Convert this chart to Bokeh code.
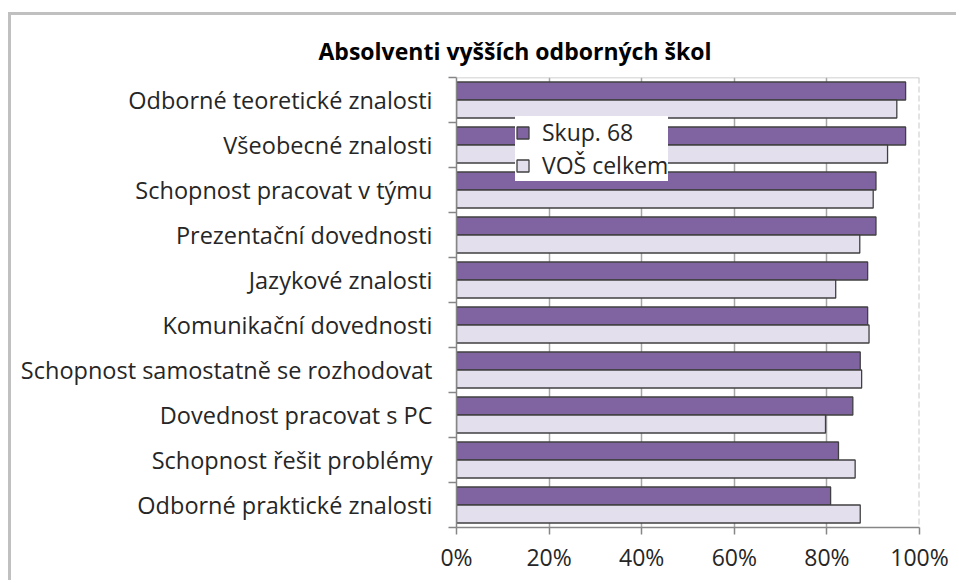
import numpy as np
from bokeh.plotting import figure
from bokeh.models import (Range1d, FixedTicker, Span, Legend, LegendItem,
                          ColumnDataSource)
from bokeh.transform import dodge
from bokeh.embed import file_html
from bokeh.resources import INLINE

# ---------------- data ----------------
title_text = "Absolventi vyšších odborných škol"
categories = [
    "Odborné teoretické znalosti",
    "Všeobecné znalosti",
    "Schopnost pracovat v týmu",
    "Prezentační dovednosti",
    "Jazykové znalosti",
    "Komunikační dovednosti",
    "Schopnost samostatně se rozhodovat",
    "Dovednost pracovat s PC",
    "Schopnost řešit problémy",
    "Odborné praktické znalosti",
]
series_names = ["Skup. 68", "VOŠ celkem"]
skup68 = [97.0, 97.0, 90.6, 90.6, 88.8, 88.8, 87.2, 85.6, 82.5, 80.8]
vos_celkem = [95.1, 93.1, 90.0, 87.1, 81.9, 89.1, 87.5, 79.7, 86.1, 87.2]
x_ticks = [0, 20, 40, 60, 80, 100]
x_tick_labels = ["0%", "20%", "40%", "60%", "80%", "100%"]

# ---------------- styling ----------------
FONT = "Open Sans"
TEXT = "#262626"
AXIS = "#868686"
PURPLE = "#8064A2"
LIGHT = "#E4DFEC"
EDGE = "#404040"

n = len(categories)
ypos = list(range(n - 1, -1, -1))
src = ColumnDataSource(dict(y=ypos, cat=categories, a=skup68, b=vos_celkem))

p = figure(width=945, height=565,
           x_range=Range1d(0, 100), y_range=Range1d(-0.5, n - 0.5),
           output_backend="svg", toolbar_location=None,
           min_border_left=445, min_border_right=40,
           min_border_top=62, min_border_bottom=56)
p.styles = {"border-top": "3px solid #c0c0c0",
            "border-left": "3px solid #c0c0c0",
            "border-right": "none",
            "border-bottom": "none",
            "margin-top": "12px",
            "margin-left": "8px",
            "box-sizing": "content-box"}
p.background_fill_color = "white"
p.border_fill_color = "white"
p.outline_line_color = None

p.title.text = title_text
p.title.align = "left"
p.title.offset = -138
p.title.standoff = 22
p.title.text_font = FONT
p.title.text_font_size = "23px"
p.title.text_font_style = "bold"
p.title.text_color = "black"

r1 = p.hbar(y=dodge("y", 0.2), right="a", left=0, height=0.4, source=src,
            fill_color=PURPLE, line_color=EDGE, line_width=1.3)
r2 = p.hbar(y=dodge("y", -0.2), right="b", left=0, height=0.4, source=src,
            fill_color=LIGHT, line_color=EDGE, line_width=1.3)

# x axis
xa = p.xaxis[0]
xa.ticker = FixedTicker(ticks=x_ticks)
xa.major_label_overrides = dict(zip(x_ticks, x_tick_labels))
xa.axis_line_color = AXIS
xa.axis_line_width = 1.5
xa.major_tick_line_color = AXIS
xa.major_tick_line_width = 1.5
xa.major_tick_out = 7
xa.major_tick_in = 0
xa.minor_tick_line_color = None
xa.major_label_text_font = FONT
xa.major_label_text_font_size = "23px"
xa.major_label_text_color = TEXT
xa.major_label_standoff = 6

# y axis
ya = p.yaxis[0]
ya.ticker = FixedTicker(ticks=ypos, minor_ticks=[k - 0.5 for k in range(n + 1)])
ya.major_label_overrides = dict(zip(ypos, categories))
ya.axis_line_color = AXIS
ya.axis_line_width = 1.5
ya.major_tick_line_color = None
ya.major_tick_out = 0
ya.major_tick_in = 0
ya.minor_tick_line_color = AXIS
ya.minor_tick_line_width = 1.5
ya.minor_tick_out = 8
ya.minor_tick_in = 0
ya.major_label_text_font = FONT
ya.major_label_text_font_size = "23.5px"
ya.major_label_text_color = TEXT
ya.major_label_standoff = 16

# grid
p.xgrid.ticker = FixedTicker(ticks=x_ticks[1:-1])
p.xgrid.grid_line_color = "#a6a6a6"
p.xgrid.grid_line_width = 1.5
p.ygrid.visible = False

p.add_layout(Span(location=100, dimension="height", line_color="#c8c8c8",
                  line_width=2, line_dash="6 3"))
p.add_layout(Span(location=n - 0.5, dimension="width", line_color="#bfbfbf",
                  line_width=1.5))

legend = Legend(items=[LegendItem(label=series_names[0], renderers=[r1]),
                       LegendItem(label=series_names[1], renderers=[r2])],
                location=(59, 346), orientation="vertical",
                border_line_color=None, background_fill_color="white",
                background_fill_alpha=1.0, glyph_width=15, glyph_height=15,
                label_text_font=FONT, label_text_font_size="23px",
                label_text_color=TEXT, label_standoff=12, label_height=28,
                padding=6, spacing=1, margin=0)
p.add_layout(legend)

open("out.html", "w").write(file_html(p, INLINE))
